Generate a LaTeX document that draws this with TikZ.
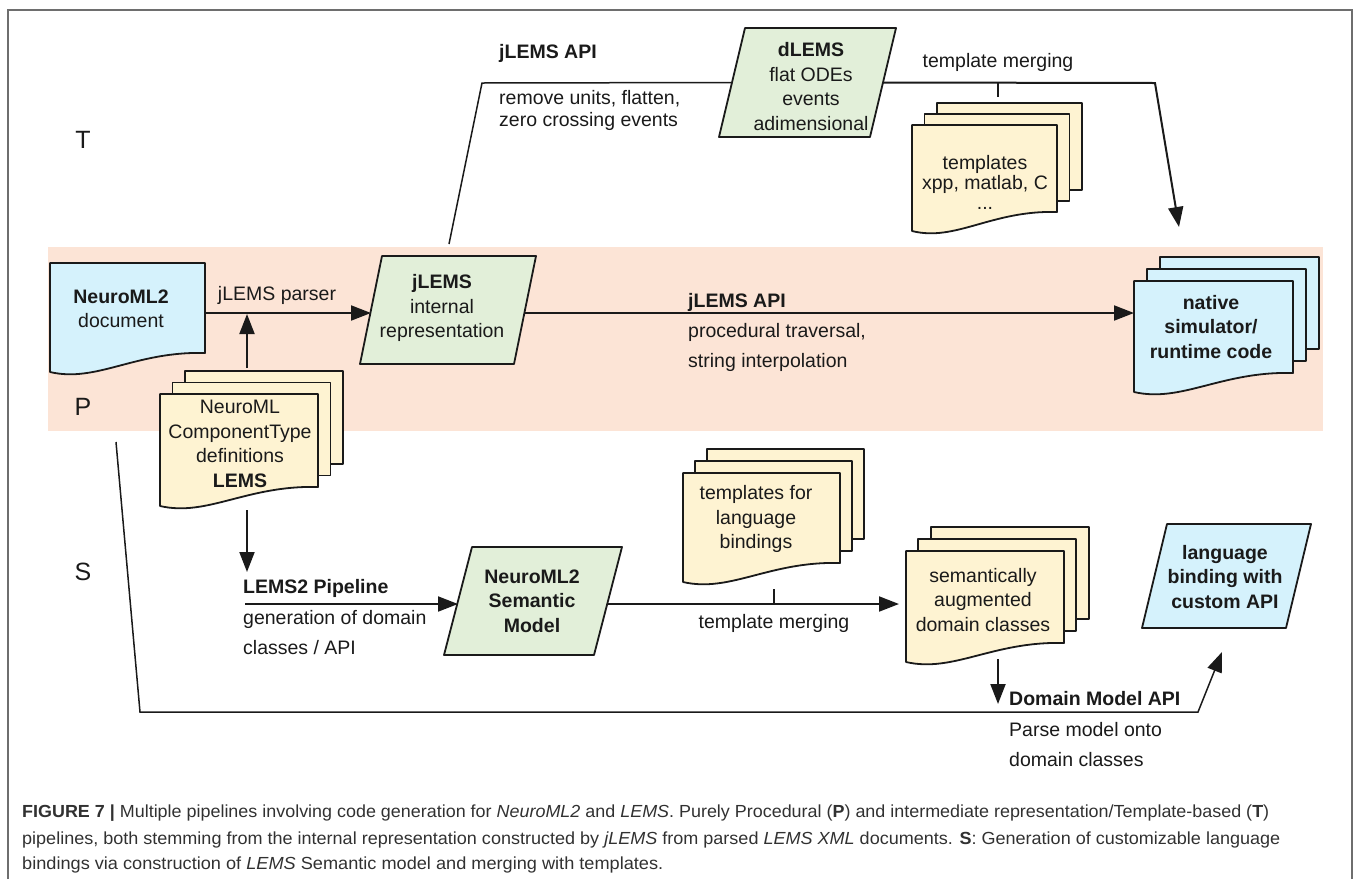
\documentclass[tikz,border=0pt]{standalone}
\usepackage{fontspec}
\usepackage{graphicx}
\setmainfont{Liberation Sans}
\usetikzlibrary{calc,arrows.meta}
\definecolor{docblue}{HTML}{D5F2FC}
\definecolor{docgreen}{HTML}{E2EFD9}
\definecolor{docyellow}{HTML}{FEF3D2}
\definecolor{bandpeach}{HTML}{FCE4D6}
\definecolor{framegray}{HTML}{6E6E6E}
\definecolor{inkc}{HTML}{1A1A1A}
\newcommand{\docwave}[2]{%
  \draw[shapeline, fill=#2] (#1.north west) -- (#1.north east) -- (#1.south east)
    .. controls ($(#1.south west)!0.55!(#1.south east)+(0,-2)$) and ($(#1.south west)!0.3!(#1.south east)+(0,30)$) .. ($(#1.south west)+(0,19)$) -- cycle;}
\newcommand{\stackback}[4]{%
  \draw[shapeline, fill=#2] ([shift={(#3,#4)}]#1.north west) rectangle ([shift={(#3,#4)}]#1.south east);}
\newcommand{\paragram}[3]{%
  \draw[shapeline, fill=#2] ([xshift=#3pt]#1.north west) -- ([xshift=#3pt]#1.north east) -- ([xshift=-#3pt]#1.south east) -- ([xshift=-#3pt]#1.south west) -- cycle;}
\begin{document}
\begin{tikzpicture}[x=1pt,y=-1pt,
  shapebox/.style={draw=none, inner sep=0pt, outer sep=0pt, rectangle},
  shapeline/.style={draw=inkc, line width=1.8pt, line join=round},
  txt/.style={inner sep=0pt, align=center, font=\fontsize{19.5}{24.5}\selectfont, text=inkc},
  ltxt/.style={inner sep=0pt, anchor=west, align=left, font=\fontsize{19.5}{24.5}\selectfont, text=inkc},
  wideltxt/.style={ltxt, font=\fontsize{19.5}{30}\selectfont},
  lane/.style={inner sep=0pt, font=\fontsize{25}{30}\selectfont, text=inkc},
  captxt/.style={inner sep=0pt, anchor=west, font=\fontsize{17.5}{21}\selectfont, text=inkc!90},
  arr/.style={draw=inkc, line width=2pt, -{Triangle[length=20pt,width=15pt]}},
  conn/.style={draw=inkc, line width=1.5pt}]
\useasboundingbox (0,0) rectangle (1358,879);
% shape nodes
\node[shapebox, minimum width=155pt, minimum height=90pt] (nml) at (127.5,308) {};
\node[shapebox, minimum width=154pt, minimum height=108pt] (jlems) at (448,310) {};
\node[shapebox, minimum width=151pt, minimum height=109pt] (dlems) at (807.5,82.5) {};
\node[shapebox, minimum width=145pt, minimum height=87pt] (tpl) at (984.5,168.5) {};
\node[shapebox, minimum width=159pt, minimum height=92pt] (native) at (1213.5,327) {};
\node[shapebox, minimum width=158pt, minimum height=93pt] (ctdef) at (239,440.5) {};
\node[shapebox, minimum width=150pt, minimum height=108pt] (sem) at (533,601) {};
\node[shapebox, minimum width=157pt, minimum height=90pt] (tlb) at (761.5,518) {};
\node[shapebox, minimum width=158pt, minimum height=92pt] (sad) at (985,597) {};
\node[shapebox, minimum width=144pt, minimum height=104pt] (lbind) at (1226.5,576) {};
% frame and band
\draw[framegray, line width=1.2pt] (8,879) -- (8,10) -- (1352,10) -- (1352,879);
\fill[bandpeach] (48,247) rectangle (1323,431);
% shapes
\docwave{nml}{docblue}
\paragram{jlems}{docgreen}{11}
\paragram{dlems}{docgreen}{13}
\stackback{tpl}{docyellow}{25}{-22}
\stackback{tpl}{docyellow}{12.5}{-11}
\docwave{tpl}{docyellow}
\stackback{native}{docblue}{26}{-24}
\stackback{native}{docblue}{13}{-12}
\docwave{native}{docblue}
\stackback{ctdef}{docyellow}{25}{-23}
\stackback{ctdef}{docyellow}{12.5}{-11.5}
\docwave{ctdef}{docyellow}
\paragram{sem}{docgreen}{14}
\stackback{tlb}{docyellow}{24}{-24}
\stackback{tlb}{docyellow}{12}{-12}
\docwave{tlb}{docyellow}
\stackback{sad}{docyellow}{25}{-24}
\stackback{sad}{docyellow}{12}{-12}
\docwave{sad}{docyellow}
\paragram{lbind}{docblue}{12.5}
% connector end points
\coordinate (ctin) at (247,368);
\coordinate (ctj) at (247,314);
\coordinate (tstart) at (449,244);
\coordinate (tcorner) at (482,83);
\coordinate (tcorner2) at (1155,83);
\coordinate (tend) at (1179,227);
\coordinate (tick1a) at (998,83);
\coordinate (tick1b) at (998,97);
\coordinate (ctout) at (247,510);
\coordinate (sarrow) at (247,572);
\coordinate (lems2in) at (245,604);
\coordinate (tick2a) at (774,589);
\coordinate (tick2b) at (774,604);
\coordinate (sadout) at (998,659);
\coordinate (dmtip) at (998,704);
\coordinate (sl1) at (116,442);
\coordinate (sl2) at (140,712);
\coordinate (sl3) at (1198,712);
\coordinate (sl4) at (1222,652);
\coordinate (jlout) at ([yshift=-3pt]jlems.east);
\coordinate (semout) at ([yshift=-3pt]sem.east);
% connectors
\draw[arr] ([yshift=-5pt]nml.east) -- ([yshift=-3pt]jlems.west);
\draw[arr] (ctin) -- (ctj);
\draw[arr] (jlout) -- (jlout -| native.west);
\draw[conn] (tstart) -- (tcorner) -- (dlems.west);
\draw[arr] (dlems.east) -- (tcorner2) -- (tend);
\draw[conn] (tick1a) -- (tick1b);
\draw[arr] (ctout) -- (sarrow);
\draw[arr] (lems2in) -- ([yshift=-3pt]sem.west);
\draw[arr, shorten >=7pt] (semout) -- (semout -| sad.west);
\draw[conn] (tick2a) -- (tick2b);
\draw[arr] (sadout) -- (dmtip);
\draw[arr, line width=1.5pt] (sl1) -- (sl2) -- (sl3) -- (sl4);
% texts
\node[lane] (laneT) at (83,140) {T};
\node[lane] (laneP) at (83,407) {P};
\node[lane] (laneS) at (83,572) {S};
\node[txt] (nml-t) at (121,309) {\textbf{NeuroML2}\\document};
\node[txt] (parser-t) at (277,295) {jLEMS parser};
\node[txt] (jlems-t) at (442,308) {\textbf{jLEMS}\\internal\\representation};
\node[ltxt] (api1-t) at (499,53) {\textbf{jLEMS API}};
\node[ltxt, font=\fontsize{19.5}{22}\selectfont] (api1b-t) at (499,110) {remove units, flatten,\\zero crossing events};
\node[txt] (dlems-t) at (811,86.5) {\textbf{dLEMS}\\flat ODEs\\events\\adimensional};
\node[txt] (tm1-t) at (998,62) {template merging};
\node[txt, font=\fontsize{19.5}{20}\selectfont] (tpl-t) at (985,182) {templates\\xpp, matlab, C\\...};
\node[ltxt] (api2-t) at (688,302) {\textbf{jLEMS API}};
\node[wideltxt] (api2b-t) at (688,347) {procedural traversal,\\string interpolation};
\node[txt] (native-t) at (1211,327) {\textbf{native}\\\textbf{simulator/}\\\textbf{runtime code}};
\node[txt] (ct-t) at (240,444) {NeuroML\\ComponentType\\definitions\\\textbf{LEMS}};
\node[ltxt] (lems2-t) at (243,588) {\textbf{LEMS2 Pipeline}};
\node[wideltxt] (lems2b-t) at (243,633) {generation of domain\\classes / API};
\node[txt] (sem-t) at (532,601) {\textbf{NeuroML2}\\\textbf{Semantic}\\\textbf{Model}};
\node[txt] (tlb-t) at (756,519) {templates for\\language\\bindings};
\node[txt] (tm2-t) at (774,623) {template merging};
\node[txt] (sad-t) at (983,600) {semantically\\augmented\\domain classes};
\node[txt] (lbind-t) at (1225,577) {\textbf{language}\\\textbf{binding with}\\\textbf{custom API}};
\node[ltxt] (dm-t) at (1009,699) {\textbf{Domain Model API}};
\node[wideltxt] (dmb-t) at (1009,745) {Parse model onto\\domain classes};
% caption
\node[captxt] (cap1) at (22,813) {\resizebox{1247pt}{\height}{\textbf{FIGURE 7 |} Multiple pipelines involving code generation for \textit{NeuroML2} and \textit{LEMS}. Purely Procedural (\textbf{P}) and intermediate representation/Template-based (\textbf{T})}};
\node[captxt] (cap2) at (22,840) {\resizebox{1258pt}{\height}{pipelines, both stemming from the internal representation constructed by \textit{jLEMS} from parsed \textit{LEMS XML} documents. \textbf{S}: Generation of customizable language}};
\node[captxt] (cap3) at (22,865) {\resizebox{641pt}{\height}{bindings via construction of \textit{LEMS} Semantic model and merging with templates.}};
\end{tikzpicture}
\end{document}
